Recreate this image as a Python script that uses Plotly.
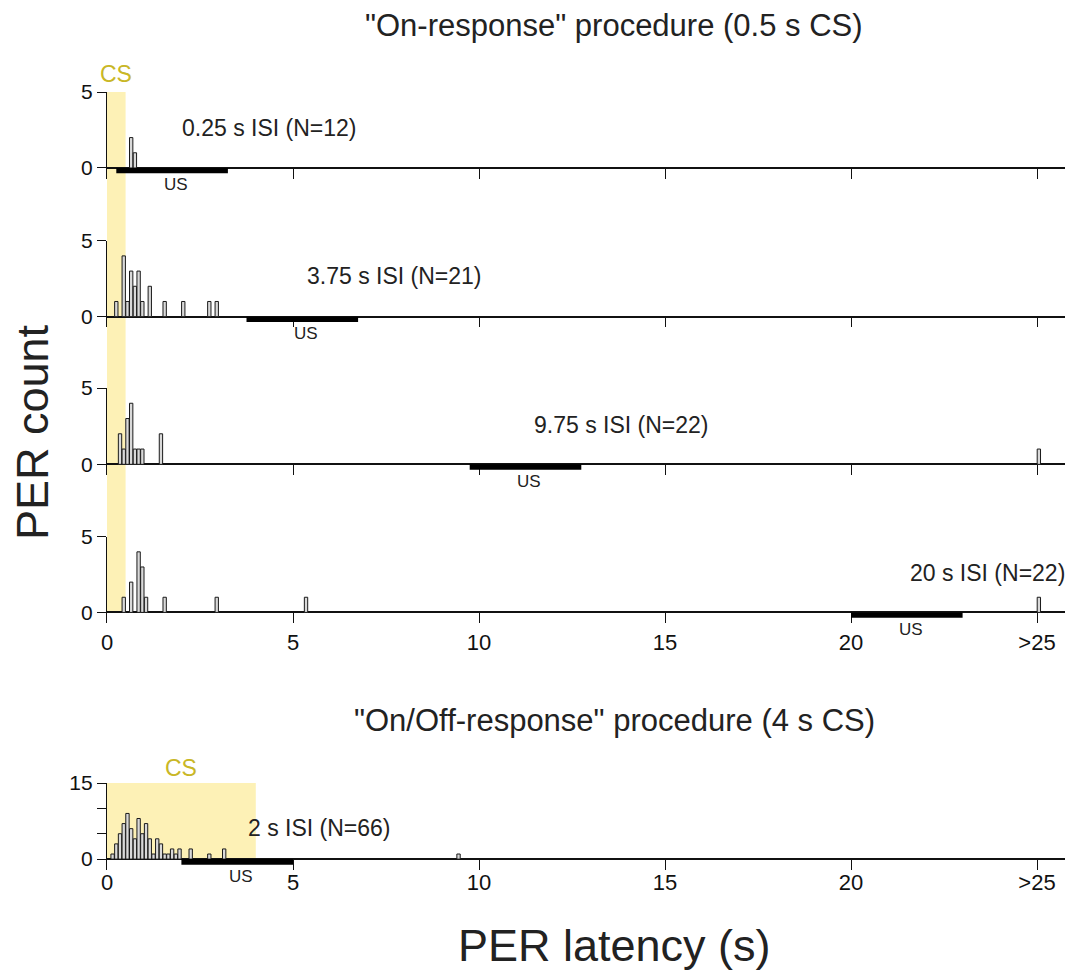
import plotly.graph_objects as go

# ---------------- data ----------------
x_tickvals = [0, 5, 10, 15, 20, 25]
x_ticktext = ["0", "5", "10", "15", "20", ">25"]

isi_values = [0.25, 3.75, 9.75, 20, 2]
isi_labels = ["0.25 s ISI (N=12)", "3.75 s ISI (N=21)", "9.75 s ISI (N=22)",
              "20 s ISI (N=22)", "2 s ISI (N=66)"]
us_duration = 3.0
cs_duration_on = 0.5
cs_duration_onoff = 4.0

title_on = '"On-response" procedure (0.5 s CS)'
title_onoff = '"On/Off-response" procedure (4 s CS)'

lat_isi025 = [0.65, 0.75]
cnt_isi025 = [2, 1]

lat_isi375 = [0.25, 0.45, 0.55, 0.65, 0.75, 0.85, 0.95, 1.15, 1.55, 2.05, 2.75, 2.95]
cnt_isi375 = [1, 4, 1, 3, 2, 3, 1, 2, 1, 1, 1, 1]

lat_isi975 = [0.35, 0.45, 0.55, 0.65, 0.75, 0.85, 0.95, 1.45, 25.05]
cnt_isi975 = [2, 1, 3, 4, 1, 1, 1, 2, 1]

lat_isi20 = [0.45, 0.65, 0.85, 0.95, 1.05, 1.55, 2.95, 5.35, 25.05]
cnt_isi20 = [1, 2, 4, 3, 1, 1, 1, 1, 1]

lat_isi2 = [0.15, 0.25, 0.35, 0.45, 0.55, 0.65, 0.75, 0.85, 0.95, 1.05,
            1.15, 1.25, 1.35, 1.45, 1.55, 1.65, 1.75, 1.85, 1.95,
            2.25, 2.75, 3.15, 9.45]
cnt_isi2 = [1, 3, 5, 7, 9, 6, 4, 8, 5, 7,
            4, 1, 4, 3, 1, 1, 2, 1, 2,
            2, 1, 2, 1]

panels_lat = [lat_isi025, lat_isi375, lat_isi975, lat_isi20, lat_isi2]
panels_cnt = [cnt_isi025, cnt_isi375, cnt_isi975, cnt_isi20, cnt_isi2]

# ---------------- layout geometry ----------------
OFF = 8                      # page body margin
W, H = 1073 - OFF, 974 - OFF
ML, MR = 107 - OFF, 0
x_max = (W - ML - MR) / 37.2

def py(px):
    return 1 - (px - OFF) / H

def pxx(px):
    return (px - OFF - ML) / (W - ML - MR)

domains = [
    (py(178.6), py(92.0)),
    (py(327.3), py(240.7)),
    (py(475.0), py(388.0)),
    (py(623.0), py(536.7)),
    (py(869.5), py(783.0)),
]
y_ranges = [[-0.7, 5], [-0.7, 5], [-0.7, 5], [-0.7, 5], [-2.05, 15]]
us_thick = [0.35, 0.35, 0.35, 0.35, 1.1]
tick_standoff = [0, 0, 0, 4, -3]

FONT = "Liberation Sans, Arial, Helvetica, sans-serif"
TXT = "#222222"
CS_FILL = "#fdf1b6"
CS_TXT = "#c9b726"

fig = go.Figure()

for i in range(5):
    sfx = "" if i == 0 else str(i + 1)
    fig.add_trace(go.Bar(
        x=panels_lat[i], y=panels_cnt[i], width=0.09,
        marker=dict(color="#d9d9d9", line=dict(color="#1a1a1a", width=1)),
        xaxis="x" + sfx, yaxis="y" + sfx, showlegend=False, hoverinfo="x+y",
    ))

layout = dict(
    width=W, height=H,
    margin=dict(l=ML, r=MR, t=0, b=0, autoexpand=False),
    paper_bgcolor="white", plot_bgcolor="rgba(0,0,0,0)",
    font=dict(family=FONT, color=TXT),
    showlegend=False,
)

for i in range(5):
    sfx = "" if i == 0 else str(i + 1)
    show_lbl = i in (3, 4)
    layout["xaxis" + sfx] = dict(
        domain=[0, 1], range=[0, x_max], anchor="y" + sfx,
        tickvals=x_tickvals, ticktext=x_ticktext,
        ticks="inside", ticklen=10, tickwidth=1.2, tickcolor="#111",
        showline=False, showgrid=False, zeroline=False,
        showticklabels=show_lbl, tickfont=dict(size=22, color="#111"),
        ticklabelstandoff=tick_standoff[i],
        fixedrange=True,
    )
    if i == 4:
        ytv = [0, 5, 10, 15]
        ytt = ["0", "", "", "15"]
    else:
        ytv = [0, 5]
        ytt = ["0", "5"]
    layout["yaxis" + sfx] = dict(
        domain=list(domains[i]), range=y_ranges[i], anchor="x" + sfx,
        tickvals=ytv, ticktext=ytt,
        ticks="outside", ticklen=9, tickwidth=1.2, tickcolor="#111",
        showline=True, linecolor="#111", linewidth=1.2,
        showgrid=False, zeroline=True, zerolinecolor="#111", zerolinewidth=1.6,
        tickfont=dict(size=21, color="#111"), fixedrange=True,
    )

shapes = []
annotations = []

# CS band spanning the four "On-response" panels
shapes.append(dict(type="rect", xref="x4", yref="paper",
                   x0=0, x1=cs_duration_on, y0=py(612.3), y1=domains[0][1],
                   fillcolor=CS_FILL, line=dict(width=0), layer="below"))
# CS band for the On/Off panel
shapes.append(dict(type="rect", xref="x5", yref="y5",
                   x0=0, x1=cs_duration_onoff, y0=0, y1=15,
                   fillcolor=CS_FILL, line=dict(width=0), layer="below"))

annotations.append(dict(text="CS", xref="x", yref="y", x=cs_duration_on / 2, y=5,
                        yanchor="bottom", showarrow=False, yshift=3,
                        font=dict(size=23, color=CS_TXT)))
annotations.append(dict(text="CS", xref="x5", yref="y5", x=cs_duration_onoff / 2, y=15,
                        yanchor="bottom", showarrow=False, yshift=0,
                        font=dict(size=23, color=CS_TXT)))

label_pos = [(4.38, 2.6), (7.74, 2.68), (13.82, 2.6), (23.68, 2.6), (5.70, 6.2)]
for i in range(5):
    sfx = "" if i == 0 else str(i + 1)
    isi = isi_values[i]
    shapes.append(dict(type="rect", xref="x" + sfx, yref="y" + sfx,
                       x0=isi, x1=isi + us_duration, y0=0, y1=-us_thick[i],
                       fillcolor="black", line=dict(width=0), layer="above"))
    annotations.append(dict(text="US", xref="x" + sfx, yref="y" + sfx,
                            x=isi + us_duration / 2 + 0.1, y=-us_thick[i],
                            yanchor="top", showarrow=False, yshift=0,
                            font=dict(size=17, color=TXT)))
    lx, ly = label_pos[i]
    annotations.append(dict(text=isi_labels[i], xref="x" + sfx, yref="y" + sfx,
                            x=lx, y=ly, yanchor="middle", showarrow=False,
                            font=dict(size=23, color=TXT)))

annotations.append(dict(text=title_on, xref="paper", yref="paper",
                        x=pxx(614), y=py(25), yanchor="middle", showarrow=False,
                        font=dict(size=31, color=TXT)))
annotations.append(dict(text=title_onoff, xref="paper", yref="paper",
                        x=pxx(614), y=py(720), yanchor="middle", showarrow=False,
                        font=dict(size=31, color=TXT)))
annotations.append(dict(text="PER latency (s)", xref="paper", yref="paper",
                        x=pxx(614), y=py(945), yanchor="middle", showarrow=False,
                        font=dict(size=45, color=TXT)))
annotations.append(dict(text="PER count", xref="paper", yref="paper",
                        x=pxx(32), y=py(432), xanchor="center", yanchor="middle",
                        textangle=-90, showarrow=False,
                        font=dict(size=45, color=TXT)))

layout["shapes"] = shapes
layout["annotations"] = annotations
fig.update_layout(**layout)

fig.write_html("out.html", config={"displayModeBar": False})
